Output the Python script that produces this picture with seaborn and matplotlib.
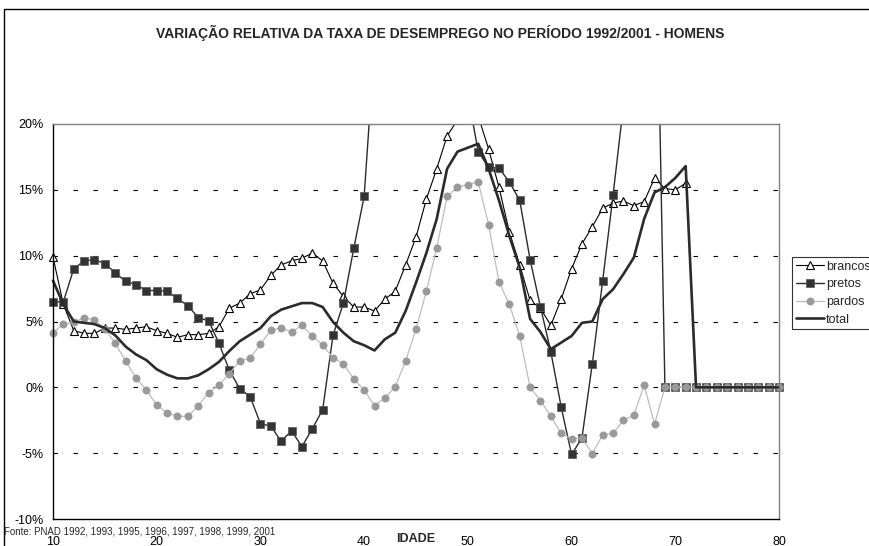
import numpy as np
import pandas as pd
import matplotlib
matplotlib.use("Agg")
import matplotlib.pyplot as plt
import seaborn as sns
from matplotlib.ticker import PercentFormatter
from matplotlib.transforms import Bbox, TransformedBbox
from matplotlib.patches import Rectangle

# ---------------------------------------------------------------
# dados (variação relativa %, por idade)
# ---------------------------------------------------------------
idade = list(range(10, 81))

brancos = [9.9, 6.3, 4.3, 4.1, 4.1, 4.5, 4.5, 4.4, 4.5, 4.6,
           4.3, 4.1, 3.8, 4.0, 4.0, 4.1, 4.6, 6.0, 6.4, 7.1,
           7.4, 8.5, 9.3, 9.6, 9.8, 10.2, 9.6, 7.9, 6.9, 6.1,
           6.1, 5.8, 6.7, 7.3, 9.3, 11.4, 14.3, 16.6, 19.1, 20.3,
           21.5, 20.6, 18.1, 15.2, 11.8, 9.3, 6.6, 6.0, 4.7, 6.7,
           9.0, 10.9, 12.2, 13.6, 14.0, 14.15, 13.8, 14.1, 15.9, 15.1,
           15.0, 15.5]

pretos = [6.5, 6.5, 9.0, 9.6, 9.7, 9.4, 8.7, 8.05, 7.8, 7.35,
          7.35, 7.3, 6.75, 6.2, 5.3, 5.05, 3.35, 1.3, -0.1, -0.7,
          -2.75, -2.95, -4.1, -3.3, -4.5, -3.15, -1.7, 3.95, 6.4, 10.55,
          14.5, 26, 32, 36, 38, 38, 36, 32, 28, 25,
          22.2, 17.9, 16.7, 16.65, 15.6, 14.2, 9.7, 6.1, 2.7, -1.5,
          -5.1, -3.85, 1.8, 8.1, 14.6, 21.4, 28, 35, 41.6, 0,
          0, 0, 0, 0, 0, 0, 0, 0, 0, 0, 0]

pardos = [4.15, 4.8, 4.95, 5.3, 5.1, 4.45, 3.35, 2.0, 0.7, -0.2,
          -1.35, -1.95, -2.2, -2.2, -1.4, -0.4, 0.17, 1.04, 2.0, 2.2,
          3.27, 4.35, 4.5, 4.2, 4.7, 3.9, 3.2, 2.25, 1.8, 0.63,
          -0.2, -1.4, -0.8, 0.05, 2.0, 4.4, 7.3, 10.6, 14.5, 15.2,
          15.4, 15.6, 12.35, 8.0, 6.3, 3.9, 0.0, -1.0, -2.2, -3.5,
          -3.9, -3.85, -5.05, -3.6, -3.5, -2.5, -2.1, 0.17, -2.8, 0,
          0, 0, 0, 0, 0, 0, 0, 0, 0, 0, 0]

total = [8.1, 6.3, 5.0, 4.9, 4.8, 4.5, 3.95, 3.1, 2.5, 2.07,
         1.37, 0.96, 0.68, 0.68, 0.91, 1.37, 1.93, 2.76, 3.5, 4.0,
         4.5, 5.4, 5.9, 6.15, 6.4, 6.4, 6.1, 4.96, 4.15, 3.5,
         3.2, 2.8, 3.65, 4.15, 5.8, 7.95, 10.2, 12.8, 16.6, 17.9,
         18.2, 18.5, 16.6, 14.2, 11.5, 9.1, 5.2, 4.2, 2.9, 3.4,
         3.9, 4.9, 5.0, 6.7, 7.45, 8.6, 9.85, 12.8, 14.8, 15.2,
         15.9, 16.8, 0, 0, 0, 0, 0, 0, 0, 0, 0]

TITULO = "VARIAÇÃO RELATIVA DA TAXA DE DESEMPREGO NO PERÍODO 1992/2001 - HOMENS"
FONTE = "Fonte: PNAD 1992, 1993, 1995, 1996, 1997, 1998, 1999, 2001"

# ---------------------------------------------------------------
# estilo
# ---------------------------------------------------------------
sns.set_style("white")
plt.rcParams['font.family'] = ['Liberation Sans', 'DejaVu Sans']
plt.rcParams['axes.unicode_minus'] = False

W, H = 870, 546
fig = plt.figure(figsize=(W / 100, H / 100), dpi=100)
ax = fig.add_axes([53 / W, 1 - 519 / H, (779 - 53) / W, (519 - 124) / H])

sns.lineplot(x=idade[:len(brancos)], y=brancos, ax=ax, label="brancos", estimator=None,
             color="black", lw=0.8, marker="^", markersize=6, markerfacecolor="white",
             markeredgecolor="black", markeredgewidth=0.8)
sns.lineplot(x=idade, y=pretos, ax=ax, label="pretos", estimator=None,
             color="#2b2b2b", lw=1.0, marker="s", markersize=5.2, markerfacecolor="#333333",
             markeredgecolor="#555555", markeredgewidth=0.5)
sns.lineplot(x=idade, y=pardos, ax=ax, label="pardos", estimator=None,
             color="#bdbdbd", lw=0.9, marker="o", markersize=5.2, markerfacecolor="#999999",
             markeredgecolor="#999999", markeredgewidth=0.5)
sns.lineplot(x=idade, y=total, ax=ax, label="total", estimator=None,
             color="#2b2b2b", lw=1.9)

# deixar marcadores nas bordas x=10 e x=80 inteiros
clip = TransformedBbox(Bbox([[-0.02, 0.0], [1.02, 1.0]]), ax.transAxes)
for ln in ax.lines:
    ln.set_clip_box(clip)
    ln.set_clip_path(None)

ax.set_xlim(10, 80)
ax.set_ylim(-10, 20)
ax.set_xticks(range(10, 81, 10))
ax.set_yticks(range(-10, 21, 5))
ax.yaxis.set_major_formatter(PercentFormatter(decimals=0))
ax.tick_params(axis="both", direction="out", length=4, width=0.8, colors="black",
               labelsize=9, pad=3)
ax.tick_params(axis="x", pad=8)

ax.grid(False)
for v in [-5, 0, 5, 10, 15]:
    ax.axhline(v, color="black", lw=0.8, ls=(0, (4, 14)), zorder=0)

for s in ["left", "bottom"]:
    ax.spines[s].set_color("black")
    ax.spines[s].set_linewidth(1.0)
for s in ["top", "right"]:
    ax.spines[s].set_color("#808080")
    ax.spines[s].set_linewidth(1.0)

ax.set_ylabel("")
ax.set_xlabel("IDADE", fontsize=9, fontweight="bold")
ax.xaxis.set_label_coords(0.5, -0.035)

leg = ax.legend(loc="upper left", bbox_to_anchor=(792 / W, 1 - 257 / H),
                bbox_transform=fig.transFigure, fontsize=9, frameon=True,
                fancybox=False, borderaxespad=0, borderpad=0.3, labelspacing=0.45,
                handlelength=2.3, handletextpad=0.1)
leg.get_frame().set_edgecolor("black")
leg.get_frame().set_linewidth(0.8)

fig.text(440 / W, 1 - 33 / H, TITULO, ha="center", va="center", fontsize=10,
         fontweight="bold")
fig.text(4 / W, 1 - 531 / H, FONTE, ha="left", va="center", fontsize=7)

# moldura externa do gráfico
fig.patches.append(Rectangle((4 / W, -0.02), 1.05, 1 - 9 / H + 0.02, transform=fig.transFigure,
                             fill=False, edgecolor="black", lw=1.0))

fig.savefig("out.png", dpi=100)
